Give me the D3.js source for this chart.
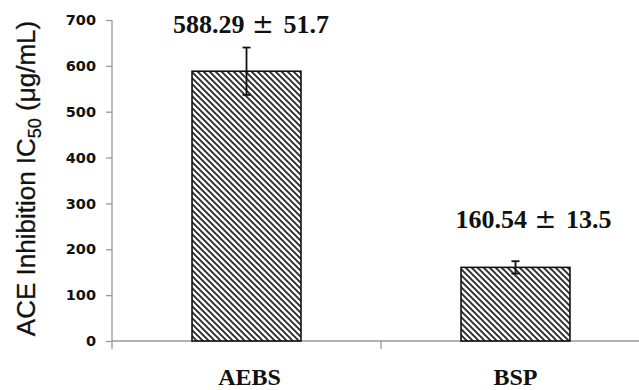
<!DOCTYPE html>
<html>
<head>
<meta charset="utf-8">
<script src="https://cdn.jsdelivr.net/npm/d3@7"></script>
<style>
  body { margin: 0; background: #fff; }
  svg { display: block; }
  .axis path, .axis line { stroke: #999; stroke-width: 1.3; }
  .y-axis text { font-family: "DejaVu Sans", Verdana, sans-serif; font-weight: bold; font-size: 14.5px; fill: #111; }
  .value-label { font-family: "Liberation Serif", "Times New Roman", serif; font-weight: bold; font-size: 26px; fill: #111; white-space: pre; }
  .value-label .pm { font-family: "DejaVu Sans", sans-serif; font-weight: normal; }
  .cat-label { font-family: "Liberation Serif", "Times New Roman", serif; font-weight: bold; font-size: 24px; fill: #111; }
  .y-title { font-family: "Liberation Sans", Arial, sans-serif; font-size: 26px; fill: #111; stroke: #111; stroke-width: 0.3; }
</style>
</head>
<body>
<svg id="chart" width="639" height="390"></svg>
<script>
// data
const categories = ['AEBS', 'BSP'];
const means = [588.29, 160.54];
const errors = [51.7, 13.5];
const valueLabels = ['588.29 ± 51.7', '160.54 ± 13.5'];
const yTicks = [0, 100, 200, 300, 400, 500, 600, 700];

const width = 639, height = 390;
const margin = { top: 20, right: -11, bottom: 49, left: 112 };

const svg = d3.select('#chart');

// hatch fill
const defs = svg.append('defs');
const pat = defs.append('pattern')
  .attr('id', 'hatch')
  .attr('patternUnits', 'userSpaceOnUse')
  .attr('width', 6)
  .attr('height', 6);
pat.append('rect').attr('width', 6).attr('height', 6).attr('fill', '#fff');
pat.append('path')
  .attr('d', 'M-1,-1 L7,7 M-1,5 L1,7 M5,-1 L7,1')
  .attr('stroke', '#2a2a2a')
  .attr('stroke-width', 1.9);

const xScale = d3.scaleBand()
  .domain(categories)
  .range([margin.left, width - margin.right])
  .paddingInner(0)
  .paddingOuter(0);

const yScale = d3.scaleLinear()
  .domain([0, 700])
  .range([height - margin.bottom, margin.top]);

const barWidth = xScale.bandwidth() * 0.405;

// axes
const yAxis = d3.axisLeft(yScale).tickValues(yTicks).tickSize(6).tickSizeOuter(0).tickPadding(10);
svg.append('g')
  .attr('class', 'axis y-axis')
  .attr('transform', `translate(${margin.left},0)`)
  .call(yAxis)
  .call(g => g.select('.domain').attr('d', `M0,${yScale(700)}V${yScale(0) + 8}`));

const xAxisG = svg.append('g')
  .attr('class', 'axis x-axis')
  .attr('transform', `translate(0,${yScale(0)})`);
xAxisG.append('line')
  .attr('x1', margin.left).attr('x2', width)
  .attr('y1', 0).attr('y2', 0);
// category boundary ticks
const bounds = categories.map(c => xScale(c)).concat([xScale(categories[1]) + xScale.bandwidth()]);
xAxisG.selectAll('.bound')
  .data(bounds.slice(1))
  .enter()
  .append('line')
  .attr('class', 'bound')
  .attr('x1', d => d).attr('x2', d => d)
  .attr('y1', 0).attr('y2', 8);

// bars
svg.selectAll('.bar')
  .data(categories)
  .enter()
  .append('rect')
  .attr('class', 'bar')
  .attr('x', d => xScale(d) + xScale.bandwidth() / 2 - barWidth / 2)
  .attr('y', (d, i) => yScale(means[i]))
  .attr('width', barWidth)
  .attr('height', (d, i) => yScale(0) - yScale(means[i]))
  .attr('fill', 'url(#hatch)')
  .attr('stroke', '#111')
  .attr('stroke-width', 1.6);

// error bars
const capW = 8;
const eb = svg.selectAll('.err')
  .data(categories)
  .enter()
  .append('g')
  .attr('class', 'err')
  .attr('stroke', '#111')
  .attr('stroke-width', 1.8);
eb.append('line')
  .attr('x1', d => xScale(d) + xScale.bandwidth() / 2)
  .attr('x2', d => xScale(d) + xScale.bandwidth() / 2)
  .attr('y1', (d, i) => yScale(means[i] + errors[i]))
  .attr('y2', (d, i) => yScale(means[i] - errors[i]));
['+', '-'].forEach(s => {
  eb.append('line')
    .attr('x1', d => xScale(d) + xScale.bandwidth() / 2 - capW / 2)
    .attr('x2', d => xScale(d) + xScale.bandwidth() / 2 + capW / 2)
    .attr('y1', (d, i) => yScale(s === '+' ? means[i] + errors[i] : means[i] - errors[i]))
    .attr('y2', (d, i) => yScale(s === '+' ? means[i] + errors[i] : means[i] - errors[i]));
});

// value annotations (offsets tuned to the reference)
const labelDx = [4.5, 18];
const labelDy = [14.5, 33];
const vl = svg.selectAll('.value-label')
  .data(valueLabels)
  .enter()
  .append('text')
  .attr('class', 'value-label')
  .attr('text-anchor', 'middle')
  .attr('x', (d, i) => xScale(categories[i]) + xScale.bandwidth() / 2 + labelDx[i])
  .attr('y', (d, i) => yScale(means[i] + errors[i]) - labelDy[i]);
vl.append('tspan').text(d => d.split(' ± ')[0] + ' ');
vl.append('tspan').attr('class', 'pm').attr('dx', 1).text('±');
vl.append('tspan').attr('dx', 3).text(d => ' ' + d.split(' ± ')[1]);

// category labels
svg.selectAll('.cat-label')
  .data(categories)
  .enter()
  .append('text')
  .attr('class', 'cat-label')
  .attr('text-anchor', 'middle')
  .attr('x', (d, i) => xScale(d) + xScale.bandwidth() / 2 + (i === 0 ? 3 : 0))
  .attr('y', 385)
  .text(d => d);

// y title
const title = svg.append('text')
  .attr('class', 'y-title')
  .attr('text-anchor', 'middle')
  .attr('transform', `translate(35,${(margin.top + yScale(0)) / 2 - 2}) rotate(-90)`);
title.append('tspan').text('ACE Inhibition IC');
title.append('tspan').attr('font-size', '18px').attr('dy', 6).text('50');
title.append('tspan').attr('dy', -6).text(' (μg/mL)');
</script>
</body>
</html>
